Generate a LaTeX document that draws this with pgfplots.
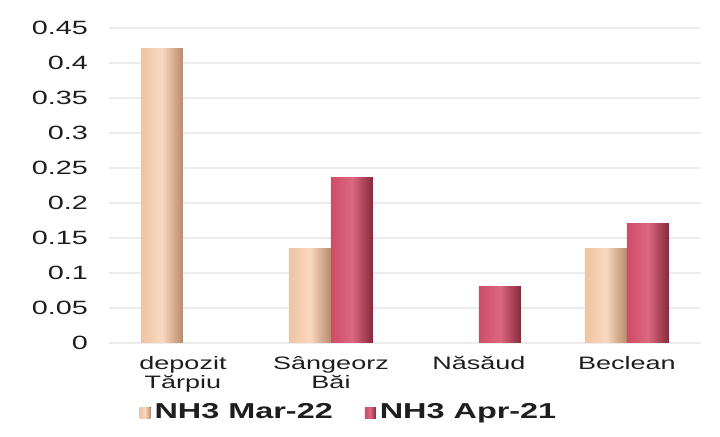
\documentclass[border=0pt]{standalone}
\usepackage{fontspec}
\setmainfont{Liberation Sans}[FakeStretch=1.5]
\usepackage{pgfplots}
\pgfplotsset{compat=1.18}

\definecolor{peachL}{HTML}{EFC3A3}
\definecolor{peachM}{HTML}{F9D8BF}
\definecolor{peachR}{HTML}{B98A6C}
\definecolor{roseL}{HTML}{CF4D67}
\definecolor{roseM}{HTML}{DC6780}
\definecolor{roseR}{HTML}{86293B}
\definecolor{txt}{HTML}{1E1E1E}

\pgfplotsset{
  peach/.style={draw=none, left color=peachL, right color=peachR, middle color=peachM, bar shift=-10.5pt},
  rose/.style={draw=none, left color=roseL, right color=roseR, middle color=roseM, bar shift=10.5pt},
}

\begin{document}
\begin{tikzpicture}
\path[use as bounding box] (-54.5pt,-47pt) rectangle (305.5pt,171.5pt);
\begin{axis}[
  at={(0,0)}, anchor=south west,
  scale only axis,
  width=296pt, height=157.5pt,
  ybar=0pt,
  bar width=21pt,
  xmin=-0.5, xmax=3.5,
  ymin=0, ymax=0.45,
  xtick={0,1,2,3},
  xticklabels={depozit\\Tărpiu, Sângeorz\\Băi, Năsăud, Beclean},
  ytick={0,0.05,...,0.45},
  /pgf/number format/assume math mode=true,
  yticklabel style={/pgf/number format/fixed, /pgf/number format/precision=2, font=\fontsize{9.6}{10}\selectfont, text=txt, xshift=-7pt},
  xticklabel style={align=center, font=\fontsize{9}{9.5}\selectfont, text=txt, yshift=-3pt},
  major tick length=0pt,
  axis line style={draw=none},
  ymajorgrids,
  grid style={draw=gray!15, line width=0.6pt},
  legend style={at={(0.407,-0.222)}, anchor=center, draw=none, legend columns=2,
    font=\fontsize{10.8}{12}\selectfont\bfseries, text=txt,
    /tikz/every even column/.append style={column sep=14pt}},
  legend image code/.code={\fill[#1] (0pt,-2.75pt) rectangle (5.5pt,2.75pt);},
]
% one plot per bar so that each bar gets its own shading
\addplot[peach] coordinates {(0,0.42)};
\addplot[rose] coordinates {(1,0.237)};
\addplot[peach, forget plot] coordinates {(1,0.135)};
\addplot[peach, forget plot] coordinates {(3,0.135)};
\addplot[rose, forget plot] coordinates {(2,0.08)};
\addplot[rose, forget plot] coordinates {(3,0.17)};
\legend{NH3 Mar-22, NH3 Apr-21}
\end{axis}
\end{tikzpicture}
\end{document}
